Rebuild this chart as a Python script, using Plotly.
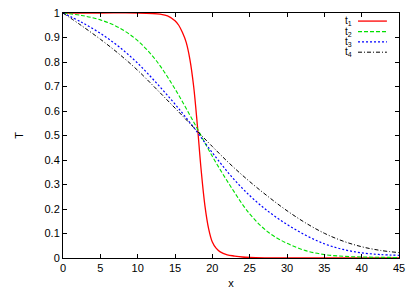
import plotly.graph_objects as go

# ---- data ----
x_t1 = [0, 5, 10, 12, 13, 14, 15, 15.5, 16, 16.5, 17, 17.5, 18, 18.5, 19, 19.5, 20, 20.5, 21, 22, 23, 24, 25, 27, 30, 35, 40, 45]
t1 = [1.0, 1.0, 1.0, 0.998, 0.995, 0.988, 0.968, 0.95, 0.92, 0.88, 0.81, 0.70, 0.54, 0.36, 0.215, 0.12, 0.065, 0.04, 0.026, 0.013, 0.008, 0.004, 0.002, 0.0005, 0.0, 0.0, 0.0, 0.0]

x_t = [0, 2.5, 5, 7.5, 10, 12.5, 15, 17.5, 20, 22.5, 25, 27.5, 30, 32.5, 35, 37.5, 40, 42.5, 45]
t2 = [1.0, 0.99, 0.972, 0.94, 0.887, 0.805, 0.69, 0.555, 0.415, 0.29, 0.18, 0.105, 0.06, 0.03, 0.014, 0.007, 0.004, 0.003, 0.002]
t3 = [1.0, 0.962, 0.917, 0.862, 0.795, 0.715, 0.628, 0.533, 0.43, 0.335, 0.255, 0.19, 0.137, 0.093, 0.058, 0.035, 0.021, 0.014, 0.011]
t4 = [1.0, 0.948, 0.893, 0.833, 0.766, 0.69, 0.612, 0.533, 0.455, 0.38, 0.312, 0.25, 0.193, 0.143, 0.101, 0.069, 0.046, 0.031, 0.022]

names = ["t<sub>1</sub>", "t<sub>2</sub>", "t<sub>3</sub>", "t<sub>4</sub>"]
colors = ["#ff0000", "#00e000", "#0000ff", "#000000"]
dashes = ["solid", "4px,2px", "2px,2px", "4px,2px,1px,2px"]
widths = [1.3, 1.1, 1.2, 1.0]

series = [(x_t1, t1), (x_t, t2), (x_t, t3), (x_t, t4)]

fig = go.Figure()
for (xs, ys), n, c, d, w in zip(series, names, colors, dashes, widths):
    fig.add_trace(go.Scatter(x=xs, y=ys, mode="lines", name=n,
                             line=dict(color=c, dash=d, width=w, shape="spline", smoothing=1.0),
                             showlegend=False))

# gnuplot-style key: label on the left, sample on the right
key_y = [0.967, 0.924, 0.882, 0.840]
for n, c, d, w, ky in zip(names, colors, dashes, widths, key_y):
    fig.add_annotation(xref="paper", yref="paper", x=0.866, y=ky, text=n,
                       showarrow=False, xanchor="right", yanchor="middle",
                       font=dict(size=10, color="black"))
    fig.add_shape(type="line", xref="paper", yref="paper", x0=0.878, x1=0.964, y0=ky, y1=ky,
                  line=dict(color=c, dash=d, width=w))

font = dict(family="Liberation Sans, Arial, sans-serif", size=11, color="black")
axis_common = dict(showgrid=False, zeroline=False, showline=True, linecolor="black", linewidth=1,
                   mirror="ticks", ticks="inside", ticklen=4, tickcolor="black", tickwidth=1,
                   tickfont=font, automargin=False)

fig.update_layout(
    width=415, height=291,
    margin=dict(l=63, r=16, t=13, b=33),
    paper_bgcolor="white", plot_bgcolor="white",
    font=font,
    xaxis=dict(range=[0, 45], dtick=5, tick0=0, title=dict(text="x", font=font, standoff=6), **axis_common),
    yaxis=dict(range=[0, 1], dtick=0.1, tick0=0, title=dict(text="T", font=font, standoff=18), **axis_common),
)

fig.write_html("out.html", config={"displayModeBar": False},
               post_script=["document.body.style.margin='0px';document.body.style.overflow='hidden';"])
